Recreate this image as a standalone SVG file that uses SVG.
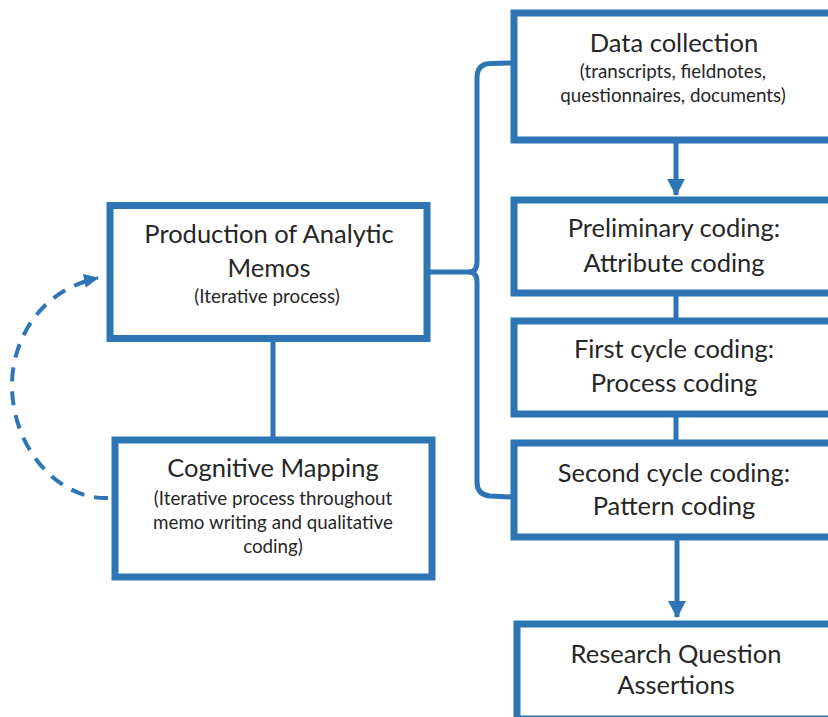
<svg xmlns="http://www.w3.org/2000/svg" width="828" height="717" viewBox="0 0 828 717">
  <style>
    .box { fill: #ffffff; stroke: #2E75B6; stroke-width: 7; }
    .link { fill: none; stroke: #2E75B6; stroke-width: 5; }
    .dash { fill: none; stroke: #2E75B6; stroke-width: 4; stroke-dasharray: 14 10; }
    text { font-family: Lato, "Open Sans", "Liberation Sans", sans-serif; fill: #262626; text-anchor: middle; }
    .t { font-size: 25.5px; }
    .s { font-size: 18.8px; }
  </style>
  <defs>
    <marker id="head" markerUnits="userSpaceOnUse" markerWidth="18" markerHeight="18" viewBox="0 0 18 18" refX="16" refY="9" orient="auto">
      <path d="M0,0 L17,9 L0,18 Z" fill="#2E75B6"/>
    </marker>
    <marker id="headSmall" markerUnits="userSpaceOnUse" markerWidth="16" markerHeight="16" viewBox="0 0 16 16" refX="14" refY="8" orient="auto">
      <path d="M0,1 L15,8 L0,15 Z" fill="#2E75B6"/>
    </marker>
  </defs>

  <rect width="828" height="717" fill="#ffffff"/>

  <!-- connectors -->
  <g id="connectors">
    <line class="link" x1="676" y1="143" x2="676" y2="195" marker-end="url(#head)"/>
    <line class="link" x1="676" y1="296" x2="676" y2="318"/>
    <line class="link" x1="676" y1="417" x2="676" y2="440"/>
    <line class="link" x1="677" y1="540" x2="677" y2="617" marker-end="url(#head)"/>
    <line class="link" x1="273" y1="342" x2="273" y2="437"/>
    <!-- brace joining the memos box to the coding stages -->
    <path class="link" stroke-width="4" d="M430,272 L469,272 Q477,272 477,262 L477,78 Q477,64 490,63.5 L512,63"/>
    <path class="link" stroke-width="4" d="M469,272 Q477,272 477,282 L477,482 Q477,495 490,496 L512,497"/>
    <!-- iterative loop -->
    <path class="dash" d="M108,498 C60,500 12,450 12,385 C12,340 40,290 98,278" marker-end="url(#headSmall)"/>
  </g>

  <g id="data-collection">
    <rect class="box" x="514" y="13" width="322" height="127"/>
    <text class="t" x="674" y="52">Data collection</text>
    <text class="s" x="673" y="78">(transcripts, fieldnotes,</text>
    <text class="s" x="673" y="102">questionnaires, documents)</text>
  </g>

  <g id="preliminary-coding">
    <rect class="box" x="514" y="200" width="322" height="93"/>
    <text class="t" x="674" y="237">Preliminary coding:</text>
    <text class="t" x="674" y="272">Attribute coding</text>
  </g>

  <g id="first-cycle-coding">
    <rect class="box" x="514" y="321" width="322" height="93"/>
    <text class="t" x="674" y="358">First cycle coding:</text>
    <text class="t" x="674" y="392">Process coding</text>
  </g>

  <g id="second-cycle-coding">
    <rect class="box" x="514" y="443" width="322" height="94"/>
    <text class="t" x="674" y="482">Second cycle coding:</text>
    <text class="t" x="674" y="515">Pattern coding</text>
  </g>

  <g id="research-question">
    <rect class="box" x="517" y="624" width="322" height="95"/>
    <text class="t" x="676" y="663">Research Question</text>
    <text class="t" x="676" y="694">Assertions</text>
  </g>

  <g id="analytic-memos">
    <rect class="box" x="110" y="205.5" width="317" height="133"/>
    <text class="t" x="269" y="243">Production of Analytic</text>
    <text class="t" x="269" y="277">Memos</text>
    <text class="s" x="267" y="303">(Iterative process)</text>
  </g>

  <g id="cognitive-mapping">
    <rect class="box" x="115" y="440" width="317" height="137"/>
    <text class="t" x="273" y="477">Cognitive Mapping</text>
    <text class="s" x="273" y="505">(Iterative process throughout</text>
    <text class="s" x="273" y="529">memo writing and qualitative</text>
    <text class="s" x="273" y="553">coding)</text>
  </g>
</svg>
